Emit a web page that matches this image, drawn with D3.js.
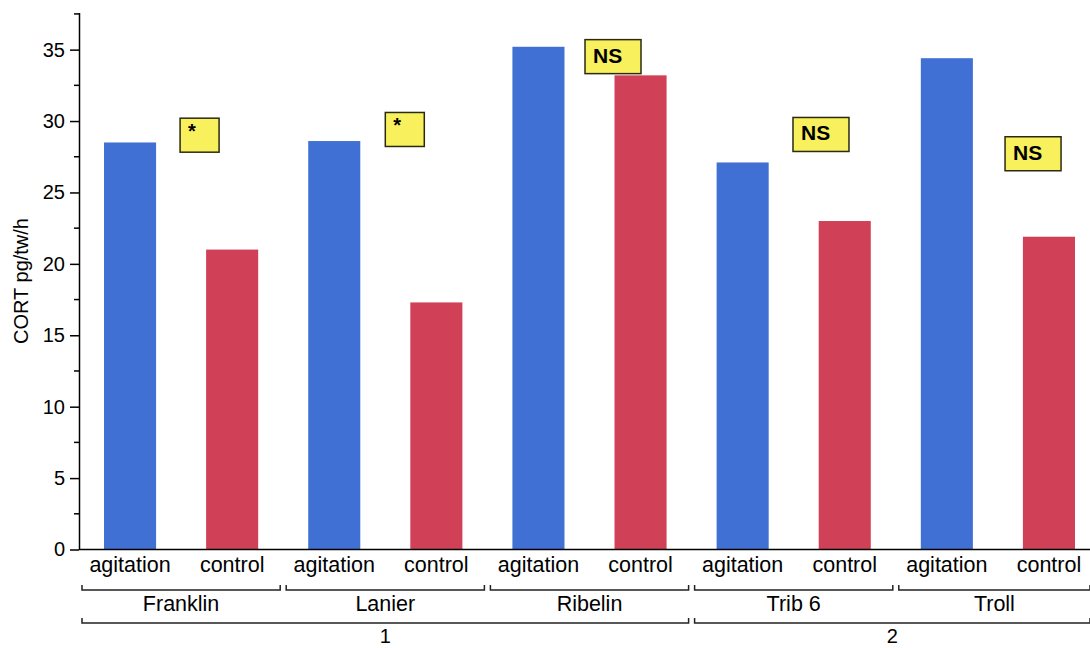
<!DOCTYPE html>
<html>
<head>
<meta charset="utf-8">
<script src="https://cdn.jsdelivr.net/npm/d3@7"></script>
<style>
  body { margin: 0; background: #fff; }
  text { font-family: "Liberation Sans", Arial, sans-serif; }
</style>
</head>
<body>
<script>
"use strict";

// data
const sites = ["Franklin", "Lanier", "Ribelin", "Trib 6", "Troll"];
const siteGroup = ["1", "1", "1", "2", "2"];
const treatments = ["agitation", "control"];
const agitationValues = [28.5, 28.6, 35.2, 27.1, 34.4];
const controlValues = [21.0, 17.3, 33.2, 23.0, 21.9];
const yTicks = [0, 5, 10, 15, 20, 25, 30, 35];
// significance flags: label, box top (data units)
const sigLabels = ["*", "*", "NS", "NS", "NS"];
const sigTop = [30.2, 30.6, 35.7, 30.25, 28.9];

const width = 1090;
const height = 648;
const margin = { left: 79, top: 12.5, bottom: 98.5 };
// plot runs a little past the right edge, like the original
const plotRight = 1100;

const bars = [];
sites.forEach((s, i) => {
  bars.push({ key: s + "|agitation", site: s, treat: "agitation", value: agitationValues[i] });
  bars.push({ key: s + "|control", site: s, treat: "control", value: controlValues[i] });
});

const x = d3.scaleBand()
  .domain(bars.map((d) => d.key))
  .range([margin.left, plotRight])
  .paddingInner(0.49)
  .paddingOuter(0.245);

const y = d3.scaleLinear()
  .domain([0, 37.6])
  .range([height - margin.bottom, margin.top]);

const color = d3.scaleOrdinal().domain(treatments).range(["#4170d5", "#d04158"]);

const svg = d3.select("body").append("svg")
  .attr("width", width)
  .attr("height", height);

// bars
svg.append("g")
  .selectAll("rect")
  .data(bars)
  .join("rect")
  .attr("x", (d) => x(d.key))
  .attr("width", x.bandwidth())
  .attr("y", (d) => y(d.value))
  .attr("height", (d) => y(0) - y(d.value))
  .attr("fill", (d) => color(d.treat));

// y axis (major + minor)
const yAxis = svg.append("g")
  .attr("transform", `translate(${margin.left},0)`)
  .call(d3.axisLeft(y).tickValues(yTicks).tickSize(9).tickPadding(5).tickSizeOuter(0));
yAxis.select(".domain").attr("stroke", "#000").attr("stroke-width", 1.5);
yAxis.selectAll(".tick line").attr("stroke-width", 1.5);
yAxis.selectAll("text").attr("font-size", 20).attr("fill", "#000");

svg.append("g")
  .attr("transform", `translate(${margin.left},0)`)
  .selectAll("line")
  .data(yTicks.map((t) => t + 2.5))
  .join("line")
  .attr("x1", -5).attr("x2", 0)
  .attr("y1", (d) => y(d)).attr("y2", (d) => y(d))
  .attr("stroke", "#000").attr("stroke-width", 1.5);

svg.append("text")
  .attr("transform", `translate(28,${(y(0) + y(37.6)) / 2}) rotate(-90)`)
  .attr("text-anchor", "middle")
  .attr("font-size", 20)
  .text("CORT pg/tw/h");

// x axis line
svg.append("line")
  .attr("x1", margin.left).attr("x2", width)
  .attr("y1", y(0)).attr("y2", y(0))
  .attr("stroke", "#000").attr("stroke-width", 1.5);

// treatment labels
svg.append("g")
  .selectAll("text")
  .data(bars)
  .join("text")
  .attr("x", (d) => x(d.key) + x.bandwidth() / 2)
  .attr("y", 572)
  .attr("text-anchor", "middle")
  .attr("font-size", 21.5)
  .text((d) => d.treat);

// bracket helper
function bracket(g, x0, x1, yy) {
  g.append("path")
    .attr("d", `M${x0},${yy - 5}V${yy}H${x1}V${yy - 5}`)
    .attr("fill", "none")
    .attr("stroke", "#222")
    .attr("stroke-width", 1.5);
}

const step = x.step();
const bracketG = svg.append("g");

// site brackets
sites.forEach((s, i) => {
  const x0 = margin.left + i * 2 * step + 3;
  const x1 = Math.min(margin.left + (i + 1) * 2 * step - 3, width);
  bracket(bracketG, x0, x1, 590);
  bracketG.append("text")
    .attr("x", (x0 + x1) / 2)
    .attr("y", 611)
    .attr("text-anchor", "middle")
    .attr("font-size", 21.5)
    .text(s);
});

// group brackets
const groups = Array.from(new Set(siteGroup));
groups.forEach((gName) => {
  const idx = siteGroup.map((g, i) => (g === gName ? i : -1)).filter((i) => i >= 0);
  const x0 = margin.left + d3.min(idx) * 2 * step + 3;
  const x1 = Math.min(margin.left + (d3.max(idx) + 1) * 2 * step - 3, width);
  bracket(bracketG, x0, x1, 623);
  bracketG.append("text")
    .attr("x", (x0 + x1) / 2)
    .attr("y", 643)
    .attr("text-anchor", "middle")
    .attr("font-size", 20)
    .text(gName);
});

// significance boxes
const sigOffset = [0.99, 1.0, 0.956, 0.993, 1.07]; // in band steps from site start
const sig = svg.append("g");
sigLabels.forEach((lab, i) => {
  const bx = margin.left + (i * 2 + sigOffset[i]) * step;
  const by = y(sigTop[i]);
  const bw = lab === "*" ? 39 : 56;
  const g = sig.append("g").attr("transform", `translate(${bx},${by})`);
  g.append("rect")
    .attr("width", bw).attr("height", 34)
    .attr("fill", "#f8f05c")
    .attr("stroke", "#2a2a10")
    .attr("stroke-width", 1.5);
  g.append("text")
    .attr("x", 8)
    .attr("y", lab === "*" ? 20 : 23)
    .attr("font-family", "'DejaVu Sans Condensed', 'DejaVu Sans', sans-serif")
    .attr("font-weight", "bold")
    .attr("font-size", lab === "*" ? 20 : 21)
    .attr("fill", "#000")
    .text(lab);
});
</script>
</body>
</html>
